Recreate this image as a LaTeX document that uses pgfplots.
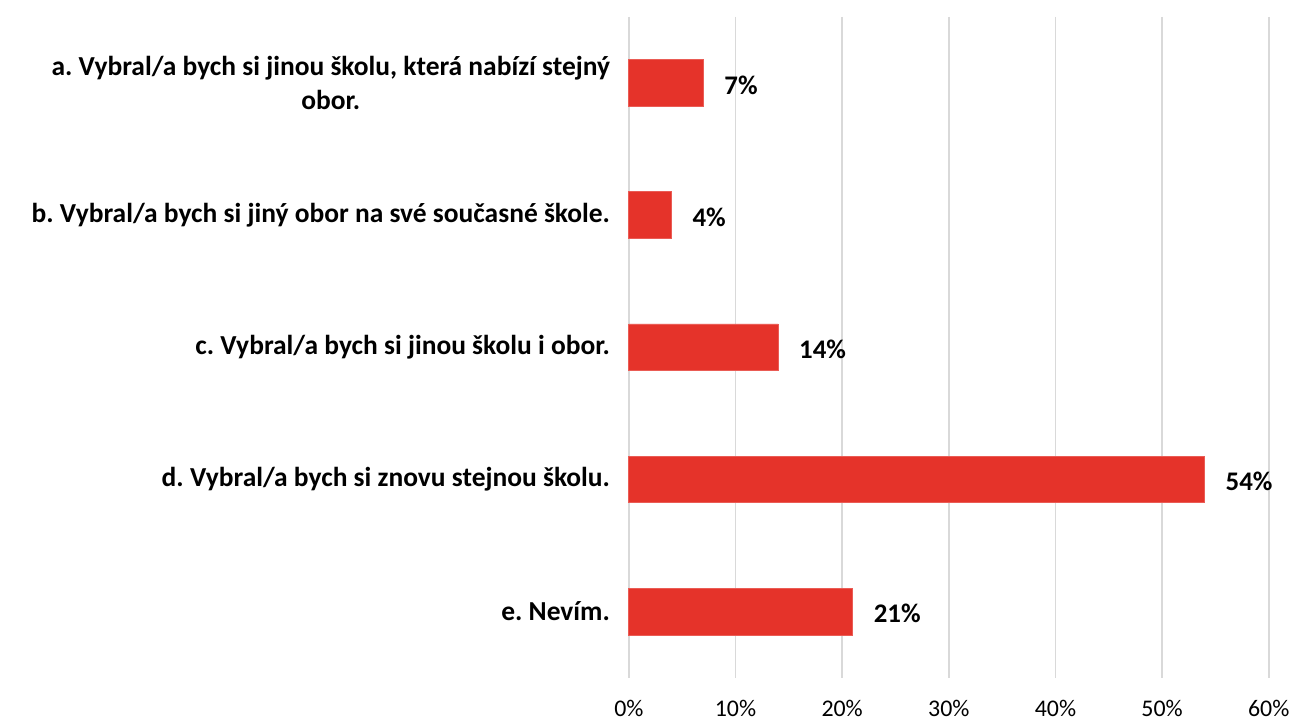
\documentclass[border=0pt]{standalone}
\usepackage{pgfplots}
\pgfplotsset{compat=1.18}
\usepackage{fontspec}
\setmainfont{Carlito}
\frenchspacing
\definecolor{barred}{HTML}{E5332A}
\definecolor{gridgray}{HTML}{D9D9D9}
\begin{document}
\begin{tikzpicture}
\begin{axis}[
  scale only axis,
  width=321.5pt, height=332pt,
  xbar, bar width=23.5pt,
  xmin=0, xmax=60,
  ymin=-0.5, ymax=4.5,
  y dir=reverse,
  ytick={0,1,2,3,4},
  yticklabels={{a. Vybral/a bych si jinou školu, která nabízí stejný\\obor.},
               {b. Vybral/a bych si jiný obor na své současné škole.},
               {c. Vybral/a bych si jinou školu i obor.},
               {d. Vybral/a bych si znovu stejnou školu.},
               {e. Nevím.}},
  yticklabel style={font=\bfseries\fontsize{13.8}{17.5}\selectfont, align=center, xshift=-6pt},
  xtick={0,10,...,60},
  xticklabel={\pgfmathprintnumber{\tick}\%},
  xticklabel style={font=\fontsize{12}{14}\selectfont, yshift=-8pt},
  /pgf/number format/assume math mode=true,
  major tick length=0pt,
  xmajorgrids,
  grid style={gridgray, line width=0.9pt},
  axis line style={draw=none},
  point meta=x,
  nodes near coords={\pgfmathprintnumber{\pgfplotspointmeta}\%},
  nodes near coords style={font=\bfseries\fontsize{13.5}{15}\selectfont, anchor=west, xshift=7pt, yshift=-1pt, text=black},
  clip=false,
]
\addplot[fill=barred, draw=barred!80!white, line width=0.4pt] coordinates {(7,0) (4,1) (14,2) (54,3) (21,4)};
\end{axis}
\path ([xshift=-316pt, yshift=8.5pt]current axis.north west) rectangle ([xshift=10.5pt, yshift=-20.5pt]current axis.south east);
\end{tikzpicture}
\end{document}
